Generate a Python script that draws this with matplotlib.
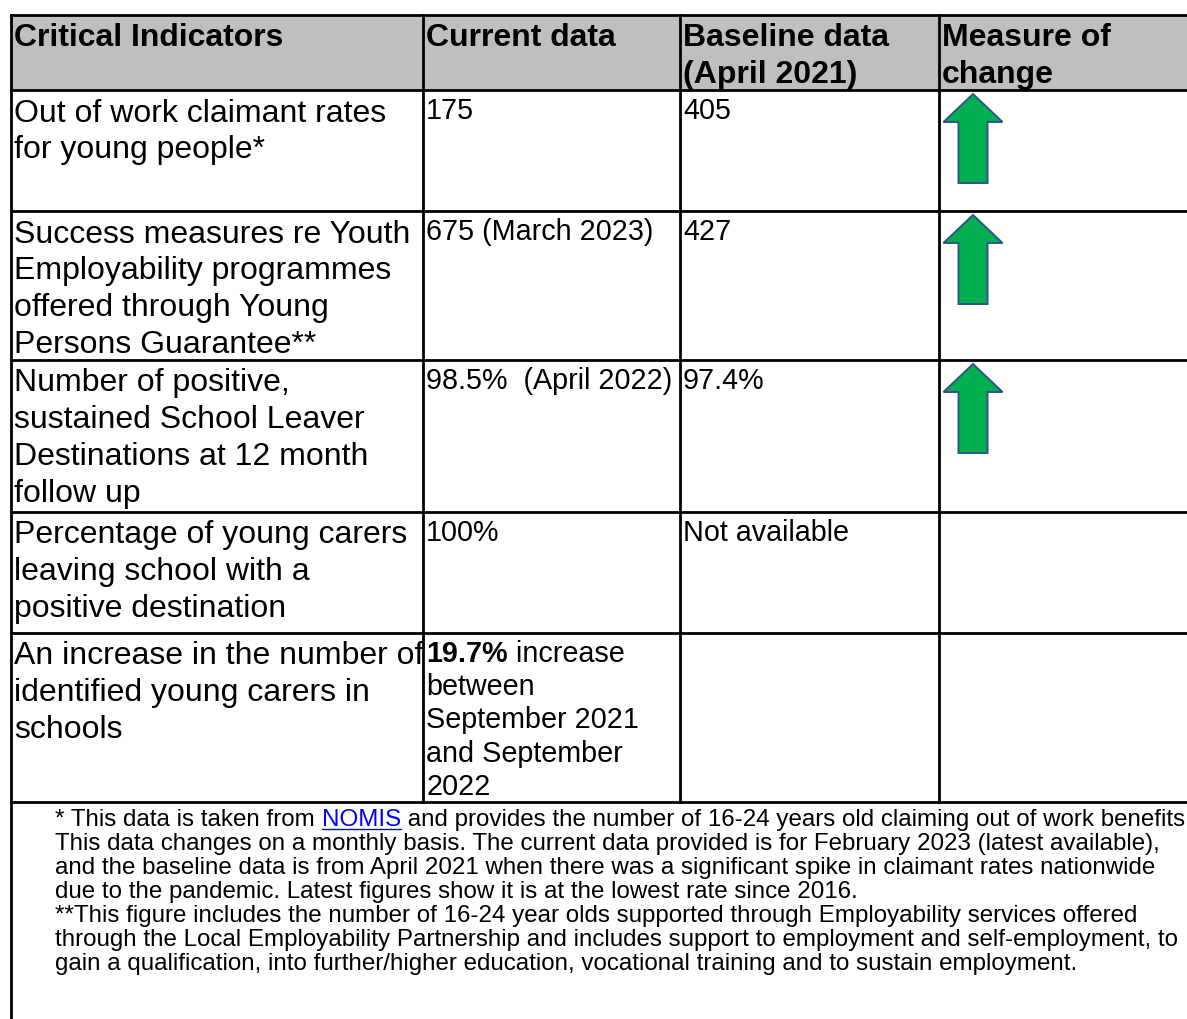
import matplotlib
matplotlib.use("Agg")
import matplotlib.pyplot as plt
from matplotlib.patches import Rectangle, FancyArrow

plt.rcParams['font.family'] = ['Liberation Sans', 'DejaVu Sans']

# ---------------- data ----------------
headers = ["Critical Indicators", "Current data", "Baseline data\n(April 2021)", "Measure of\nchange"]
indicators = [
    "Out of work claimant rates\nfor young people*",
    "Success measures re Youth\nEmployability programmes\noffered through Young\nPersons Guarantee**",
    "Number of positive,\nsustained School Leaver\nDestinations at 12 month\nfollow up",
    "Percentage of young carers\nleaving school with a\npositive destination",
    "An increase in the number of\nidentified young carers in\nschools",
]
current = [
    "175",
    "675 (March 2023)",
    "98.5%  (April 2022)",
    "100%",
    "19.7%| increase\nbetween\nSeptember 2021\nand September\n2022",
]
baseline = ["405", "427", "97.4%", "Not available", ""]
change = ["up", "up", "up", "", ""]
footnote_lines = [
    "* This data is taken from |NOMIS| and provides the number of 16-24 years old claiming out of work benefits",
    "This data changes on a monthly basis. The current data provided is for February 2023 (latest available),",
    "and the baseline data is from April 2021 when there was a significant spike in claimant rates nationwide",
    "due to the pandemic. Latest figures show it is at the lowest rate since 2016.",
    "**This figure includes the number of 16-24 year olds supported through Employability services offered",
    "through the Local Employability Partnership and includes support to employment and self-employment, to",
    "gain a qualification, into further/higher education, vocational training and to sustain employment.",
]

# ---------------- layout ----------------
W, H = 1187, 1019
col_x = [11, 423, 680, 939]
row_y = [15, 90, 211, 360, 512, 633, 802]
right = W
LW = 2.0
FS = 23          # header + indicator column
FS_SMALL = 20.7  # current / baseline columns
FS_FOOT = 17.4
LINE = 36.8
LINE_SMALL = 33.2
FOOT_LINE = 24.0
BASE_OFF = 31.5
BASE_OFF_SMALL = 29

fig = plt.figure(figsize=(W / 100, H / 100), dpi=100)
ax = fig.add_axes([0, 0, 1, 1])
ax.set_xlim(0, W)
ax.set_ylim(H, 0)
ax.axis('off')

# header fill
ax.add_patch(Rectangle((col_x[0], row_y[0]), right - col_x[0], row_y[1] - row_y[0],
                       facecolor='#BFBFBF', edgecolor='none', zorder=0))

# grid lines
for y in row_y:
    ax.plot([col_x[0] - 1, right], [y, y], color='black', lw=LW, solid_capstyle='butt', zorder=3)
ax.plot([col_x[0], col_x[0]], [row_y[0], H], color='black', lw=LW, zorder=3)
for x in col_x[1:]:
    ax.plot([x, x], [row_y[0], row_y[-1]], color='black', lw=LW, zorder=3)


def cell_text(col, row_top, text, bold=False, fs=FS, line=LINE, off=BASE_OFF):
    x = col_x[col] + 3
    for i, ln in enumerate(text.split("\n")):
        y = row_top + off + i * line
        if "|" in ln:
            b, rest = ln.split("|", 1)
            t = ax.text(x, y, b, fontsize=fs, fontweight='bold', va='baseline', ha='left')
            ax.annotate(rest, xy=(1, 0), xycoords=t, xytext=(0, 0), textcoords='offset points',
                        fontsize=fs, va='bottom', ha='left')
        else:
            ax.text(x, y, ln, fontsize=fs, fontweight='bold' if bold else 'normal',
                    va='baseline', ha='left')


# header
for c, h in enumerate(headers):
    cell_text(c, row_y[0] - 1, h, bold=True, off=BASE_OFF + 0.5)

# body rows
for r in range(len(indicators)):
    top = row_y[r + 1]
    cell_text(0, top, indicators[r])
    cell_text(1, top, current[r], fs=FS_SMALL, line=LINE_SMALL, off=BASE_OFF_SMALL)
    cell_text(2, top, baseline[r], fs=FS_SMALL, line=LINE_SMALL, off=BASE_OFF_SMALL)
    if change[r] == "up":
        cx = col_x[3] + 34
        tip = top + 4
        length = 89
        ax.add_patch(FancyArrow(cx, tip + length, 0, -length, width=29, head_width=59,
                                head_length=28, length_includes_head=True,
                                facecolor='#00B050', edgecolor='#2F528F', lw=1.4, zorder=4))

# footnotes
fx = 55
fy0 = row_y[-1] + 24
fig.canvas.draw()
for i, ln in enumerate(footnote_lines):
    y = fy0 + i * FOOT_LINE
    if ln.count("|") == 2:
        a, link, b = ln.split("|")
        t1 = ax.text(fx, y, a, fontsize=FS_FOOT, va='baseline', ha='left')
        t2 = ax.annotate(link, xy=(1, 0), xycoords=t1, xytext=(0, 0), textcoords='offset points',
                         fontsize=FS_FOOT, va='bottom', ha='left', color='#0000FF')
        ax.annotate(b, xy=(1, 0), xycoords=t2, xytext=(0, 0), textcoords='offset points',
                    fontsize=FS_FOOT, va='bottom', ha='left')
        fig.canvas.draw()
        bb = t2.get_window_extent()
        inv = ax.transData.inverted()
        (x0, _), (x1, _) = inv.transform([(bb.x0, bb.y0), (bb.x1, bb.y0)])
        ax.plot([x0, x1], [y + 3, y + 3], color='#0000FF', lw=1.0)
    else:
        ax.text(fx, y, ln, fontsize=FS_FOOT, va='baseline', ha='left')

fig.savefig("out.png", dpi=100, facecolor='white')
